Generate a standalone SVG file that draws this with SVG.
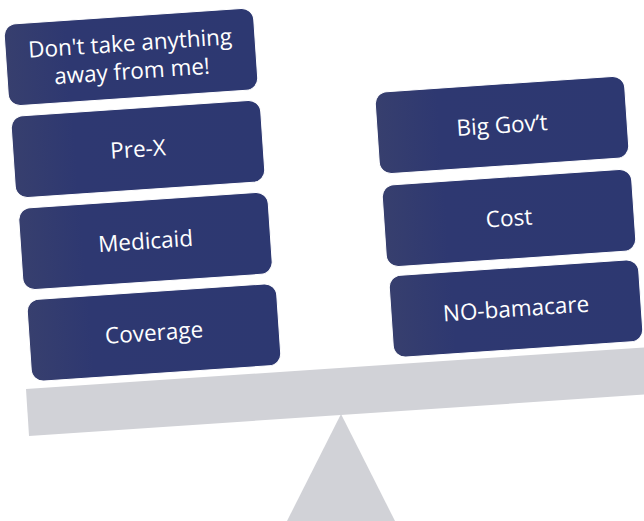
<svg xmlns="http://www.w3.org/2000/svg" width="644" height="521" viewBox="0 0 644 521">
<defs>
<linearGradient id="g" x1="0" y1="0" x2="1" y2="0">
<stop offset="0" stop-color="#373F6E"/>
<stop offset="0.25" stop-color="#2E3871"/>
<stop offset="1" stop-color="#2D3871"/>
</linearGradient>
</defs>
<style>
.box{fill:url(#g);stroke:#ffffff;stroke-width:1}
.t{font-family:"Open Sans","Noto Sans",sans-serif;font-size:22.5px;fill:#ffffff;text-anchor:middle}
.g{fill:#D1D2D7}
</style>
<polygon class="g" points="26,389 650,347 653,394 29,436"/>
<polygon class="g" points="341,414 287,521 395,521"/>
<g id="n1" transform="translate(131,57) rotate(-3.85)">
<rect class="box" x="-125" y="-41" width="250" height="82" rx="12"/>
<text class="t" y="-6">Don't take anything</text>
<text class="t" y="22">away from me!</text>
</g>
<g id="n2" transform="translate(138,149) rotate(-3.85)">
<rect class="box" x="-125" y="-41" width="250" height="82" rx="12"/>
<text class="t" y="8">Pre-X</text>
</g>
<g id="n3" transform="translate(145.5,241) rotate(-3.85)">
<rect class="box" x="-125" y="-41" width="250" height="82" rx="12"/>
<text class="t" y="8">Medicaid</text>
</g>
<g id="n4" transform="translate(154,332.5) rotate(-3.85)">
<rect class="box" x="-125" y="-41" width="250" height="82" rx="12"/>
<text class="t" y="8">Coverage</text>
</g>
<g id="n5" transform="translate(502,125) rotate(-3.85)">
<rect class="box" x="-125" y="-41" width="250" height="82" rx="12"/>
<text class="t" y="8">Big Gov’t</text>
</g>
<g id="n6" transform="translate(509,218) rotate(-3.85)">
<rect class="box" x="-125" y="-41" width="250" height="82" rx="12"/>
<text class="t" y="8">Cost</text>
</g>
<g id="n7" transform="translate(516,308.5) rotate(-3.85)">
<rect class="box" x="-125" y="-41" width="250" height="82" rx="12"/>
<text class="t" y="8">NO-bamacare</text>
</g>
<g id="connectors"></g>
</svg>
